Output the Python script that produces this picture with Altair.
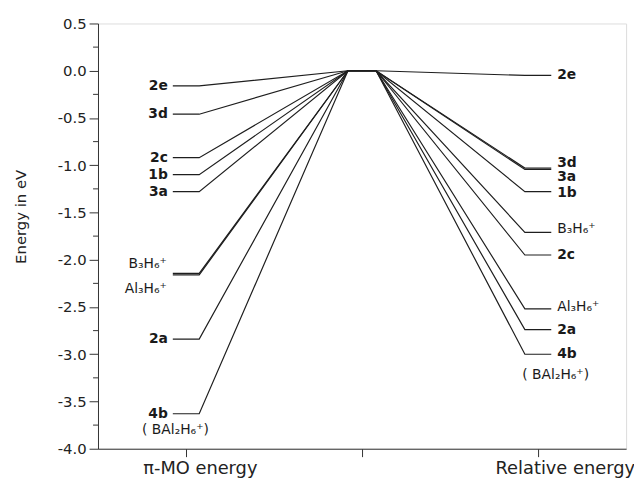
import altair as alt
import pandas as pd

# ---- data ----
species = ["2e", "3d", "2c", "1b", "3a", "B3H6+", "Al3H6+", "2a", "4b"]
pi_mo_energy = [-0.16, -0.46, -0.92, -1.10, -1.28, -2.145, -2.16, -2.84, -3.63]
relative_energy = [-0.05, -1.03, -1.95, -1.28, -1.045, -1.71, -2.52, -2.74, -3.00]

# labels on the left (pi-MO side)
left_bold = ["2e", "3d", "2c", "1b", "3a", "2a", "4b"]
left_bold_y = [-0.16, -0.46, -0.92, -1.10, -1.28, -2.84, -3.63]
left_species = ["B\u2083H\u2086\u207a", "Al\u2083H\u2086\u207a"]
left_species_y = [-2.05, -2.31]
left_note = ["( BAl\u2082H\u2086\u207a)"]
left_note_y = [-3.80]

# labels on the right (relative side)
right_bold = ["2e", "3d", "3a", "1b", "2c", "2a", "4b"]
right_bold_y = [-0.05, -0.98, -1.13, -1.29, -1.95, -2.74, -3.00]
right_species = ["B\u2083H\u2086\u207a", "Al\u2083H\u2086\u207a"]
right_species_y = [-1.67, -2.50]
right_note = ["( BAl\u2082H\u2086\u207a)"]
right_note_y = [-3.22]

x_ticks = [1, 2, 3]
y_major = [-4.0, -3.5, -3.0, -2.5, -2.0, -1.5, -1.0, -0.5, 0.0, 0.5]
y_minor = [-3.75, -3.25, -2.75, -2.25, -1.75, -1.25, -0.75, -0.25, 0.25]

# ---- build tables ----
LW = 0.075  # half width of a level line
path_rows = []
for s, l, r in zip(species, pi_mo_energy, relative_energy):
    pts = [(1 - LW, l), (1 + LW, l), (1.92, 0.0), (2.08, 0.0), (3 - LW, r), (3 + LW, r)]
    for i, (x, y) in enumerate(pts):
        path_rows.append({"species": s, "order": i, "x": x, "y": y})
paths = pd.DataFrame(path_rows)

lb = pd.DataFrame({"t": left_bold, "y": left_bold_y, "x": 1 - LW})
ls = pd.DataFrame({"t": left_species, "y": left_species_y, "x": 1 - LW})
ln = pd.DataFrame({"t": left_note, "y": left_note_y, "x": 0.94})
rb = pd.DataFrame({"t": right_bold, "y": right_bold_y, "x": 3 + LW})
rs = pd.DataFrame({"t": right_species, "y": right_species_y, "x": 3 + LW})
rn = pd.DataFrame({"t": right_note, "y": right_note_y, "x": 3.10})
minor = pd.DataFrame({"y": y_minor})

FONT = "DejaVu Sans"
INK = "#1e1e1e"

xscale = alt.Scale(domain=[0.5, 3.5], nice=False, zero=False)
yscale = alt.Scale(domain=[-4.0, 0.5], nice=False, zero=False)

xaxis = alt.Axis(
    values=x_ticks,
    labelExpr="datum.value == 1 ? 'π-MO energy' : (datum.value == 3 ? 'Relative energy' : '')",
    title=None, grid=False, tickSize=8, labelPadding=3,
    labelFont=FONT, labelFontSize=18, labelColor="#222",
    labelOffset={"condition": {"test": "datum.value == 3", "value": 27}, "value": 14},
    domainColor="#333", tickColor="#333", labelFlush=False, labelOverlap=False,
)
yaxis = alt.Axis(
    values=y_major,
    labelExpr="replace(format(datum.value, '.1f'), '\u2212', '-')",
    title="Energy in eV", grid=False, tickSize=9, labelPadding=3,
    labelFont=FONT, labelFontSize=15, labelColor="#222",
    titleFont=FONT, titleFontSize=15, titleFontWeight="normal", titleColor="#222",
    titleX=-73, titleY=195, titleBaseline="alphabetic",
    domainColor="#333", tickColor="#333",
)

lines = alt.Chart(paths).mark_line(color=INK, strokeWidth=1.2).encode(
    x=alt.X("x:Q", scale=xscale, axis=xaxis),
    y=alt.Y("y:Q", scale=yscale, axis=yaxis),
    detail="species:N",
    order="order:Q",
)

minor_ticks = alt.Chart(minor).mark_rule(color="#333", strokeWidth=1).encode(
    y=alt.Y("y:Q", scale=yscale),
    x=alt.value(-5), x2=alt.value(0),
)

def txt(df, align, weight, dx, size=15):
    return alt.Chart(df).mark_text(
        align=align, baseline="middle", font=FONT, fontSize=size,
        fontWeight=weight, color="#1a1a1a", dx=dx,
    ).encode(x=alt.X("x:Q", scale=xscale), y=alt.Y("y:Q", scale=yscale), text="t:N")

chart = alt.layer(
    lines,
    minor_ticks,
    txt(lb, "right", "bold", -5, 14),
    txt(ls, "right", "normal", -6, 14),
    txt(ln, "center", "normal", 0, 14),
    txt(rb, "left", "bold", 6, 14),
    txt(rs, "left", "normal", 6, 14),
    txt(rn, "center", "normal", 0, 14),
).properties(
    width=534, height=430,
    autosize=alt.AutoSizeParams(type="none"),
    padding={"left": 91, "top": 13, "right": 8, "bottom": 33},
).configure_view(stroke=None).configure(background="white")

chart.save("out.html", embed_options={"renderer": "svg", "actions": False})
